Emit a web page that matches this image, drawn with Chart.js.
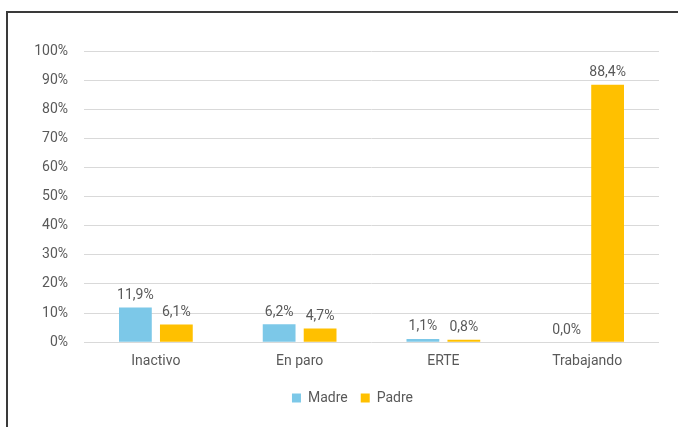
<!DOCTYPE html>
<html>
<head>
<meta charset="utf-8">
<script src="https://cdn.jsdelivr.net/npm/chart.js@4"></script>
<style>
  html, body { margin: 0; padding: 0; background: #fff; }
  #wrap { position: relative; width: 678px; height: 427px; overflow: hidden; }
  #frame { position: absolute; left: 6px; top: 11px; width: 700px; height: 450px; border-left: 2px solid #3a3a3a; border-top: 2px solid #3a3a3a; }
  canvas { position: absolute; left: 0; top: 0; }
</style>
</head>
<body>
<div id="wrap">
  <div id="frame"></div>
  <canvas id="c" width="678" height="427"></canvas>
</div>
<script>
// data
const categories = ['Inactivo', 'En paro', 'ERTE', 'Trabajando'];
const madre = [11.9, 6.2, 1.1, 0.0];
const padre = [6.1, 4.7, 0.8, 88.4];
const seriesNames = ['Madre', 'Padre'];

const FONT = "Roboto, sans-serif";
const TEXT = '#595959';

// value labels above each bar, comma decimal like the original
const barLabels = {
  id: 'barLabels',
  afterDatasetsDraw(chart) {
    const { ctx } = chart;
    ctx.save();
    ctx.font = "14px " + FONT;
    ctx.fillStyle = TEXT;
    ctx.textAlign = 'center';
    ctx.textBaseline = 'bottom';
    chart.data.datasets.forEach((ds, i) => {
      chart.getDatasetMeta(i).data.forEach((bar, j) => {
        const txt = ds.data[j].toFixed(1).replace('.', ',') + '%';
        ctx.fillText(txt, bar.x, bar.y - 5);
      });
    });
    ctx.restore();
  }
};

// the original legend sits a bit right of the canvas centre
const legendShift = {
  id: 'legendShift',
  afterLayout(chart) {
    if (!chart.legend) return;
    chart.legend.left += 15;
    chart.legend.right += 15;
  }
};

new Chart(document.getElementById('c'), {
  type: 'bar',
  data: {
    labels: categories,
    datasets: [
      { label: seriesNames[0], data: madre, backgroundColor: '#7cc8e8' },
      { label: seriesNames[1], data: padre, backgroundColor: '#ffc000' },
    ],
  },
  options: {
    responsive: false,
    animation: false,
    datasets: { bar: { categoryPercentage: 0.57, barPercentage: 0.8 } },
    layout: { padding: { left: 16, right: 19, top: 51, bottom: 12 } },
    plugins: {
      legend: {
        position: 'bottom',
        labels: {
          color: TEXT, font: { family: FONT, size: 14 },
          boxWidth: 9, boxHeight: 9, padding: 13,
        },
      },
      tooltip: { enabled: false },
    },
    scales: {
      x: {
        grid: { display: false },
        border: { display: false },
        ticks: { color: TEXT, font: { family: FONT, size: 14 }, padding: 3 },
        afterFit(scale) { scale.height += 5; },
      },
      y: {
        min: 0, max: 100,
        ticks: {
          stepSize: 10, color: TEXT, font: { family: FONT, size: 14 }, padding: 16,
          callback: v => v + '%',
        },
        grid: { color: '#d9d9d9', drawTicks: false },
        border: { display: false },
        afterFit(scale) { scale.width = 68; },
      },
    },
  },
  plugins: [barLabels, legendShift],
});
</script>
</body>
</html>
